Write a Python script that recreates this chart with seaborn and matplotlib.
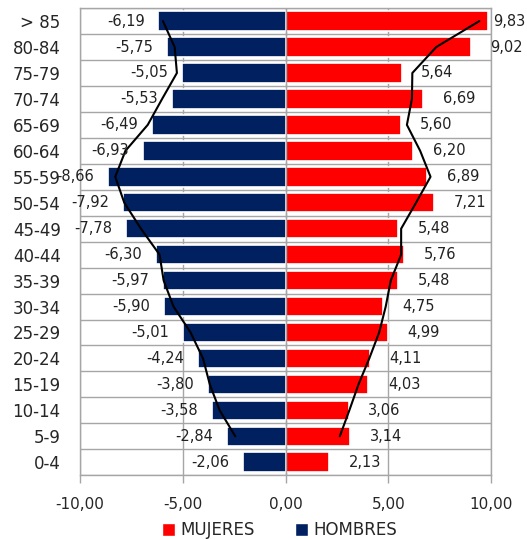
import numpy as np
import pandas as pd
import matplotlib
matplotlib.use("Agg")
import matplotlib.pyplot as plt
import seaborn as sns
from matplotlib.patches import Patch

# age groups, top to bottom
grupos = ["> 85", "80-84", "75-79", "70-74", "65-69", "60-64", "55-59", "50-54", "45-49",
          "40-44", "35-39", "30-34", "25-29", "20-24", "15-19", "10-14", "5-9", "0-4"]
hombres = [-6.19, -5.75, -5.05, -5.53, -6.49, -6.93, -8.66, -7.92, -7.78,
           -6.30, -5.97, -5.90, -5.01, -4.24, -3.80, -3.58, -2.84, -2.06]
mujeres = [9.83, 9.02, 5.64, 6.69, 5.60, 6.20, 6.89, 7.21, 5.48,
           5.76, 5.48, 4.75, 4.99, 4.11, 4.03, 3.06, 3.14, 2.13]
xticks = [-10, -5, 0, 5, 10]

ROJO = "#FF0000"
AZUL = "#002060"
GRIS = "#A6A6A6"


def fmt(v):
    return f"{v:.2f}".replace(".", ",")


df = pd.DataFrame({"grupo": grupos, "hombres": hombres, "mujeres": mujeres})
# 2-period moving average trendline (computed from bottom to top like Excel)
rev = df.iloc[::-1]
ma_h = rev["hombres"].rolling(2).mean().iloc[::-1]
ma_m = rev["mujeres"].rolling(2).mean().iloc[::-1]

sns.set_style("white")
plt.rcParams["font.family"] = ["DejaVu Sans"]

fig = plt.figure(figsize=(5.27, 5.40), dpi=100)
ax = fig.add_axes([0.152, 0.12, 0.78, 0.865])

sns.barplot(data=df, x="mujeres", y="grupo", orient="h", color=ROJO, saturation=1,
            width=0.75, edgecolor="white", linewidth=1.2, ax=ax, zorder=2)
sns.barplot(data=df, x="hombres", y="grupo", orient="h", color=AZUL, saturation=1,
            width=0.75, edgecolor="white", linewidth=1.2, ax=ax, zorder=2)

pos = np.arange(len(grupos))
ok = ma_h.notna().values
ax.plot(ma_h.values[ok], pos[ok], color="black", lw=1.5, zorder=4)
ax.plot(ma_m.values[ok], pos[ok], color="black", lw=1.5, zorder=4)

for i, (h, m) in enumerate(zip(hombres, mujeres)):
    ax.annotate(fmt(h), (h, i), xytext=(-10, 0), textcoords="offset points",
                ha="right", va="center", fontsize=10.5, color="#222222", zorder=5)
    off = 14 if m < 9.5 else 4
    ax.annotate(fmt(m), (m, i), xytext=(off, 0), textcoords="offset points",
                ha="left", va="center", fontsize=10.5, color="#222222", zorder=5,
                annotation_clip=False)

# grid
for b in np.arange(len(grupos) + 1) - 0.5:
    ax.axhline(b, color=GRIS, lw=1, zorder=1)
for t in xticks:
    ax.axvline(t, color=GRIS, lw=1, zorder=1)
ax.axvline(0, color=GRIS, lw=1, zorder=3)

ax.set_xlim(-10, 10)
ax.set_ylim(len(grupos) - 0.5, -0.5)
ax.set_xticks(xticks)
ax.set_xticklabels([fmt(t) for t in xticks], fontsize=11)
ax.set_yticks(pos)
ax.set_yticklabels(grupos, fontsize=12)
ax.set_xlabel("")
ax.set_ylabel("")
ax.tick_params(axis="x", direction="out", length=6, width=1, color=GRIS, pad=10, bottom=True)
ax.tick_params(axis="y", length=0, pad=14)
for s in ax.spines.values():
    s.set_color(GRIS)
    s.set_linewidth(1)

handles = [Patch(facecolor=ROJO, label="MUJERES"), Patch(facecolor=AZUL, label="HOMBRES")]
fig.legend(handles=handles, loc="center", bbox_to_anchor=(0.53, 0.018), ncol=2,
           frameon=False, fontsize=12, handlelength=0.8, handleheight=0.8,
           handletextpad=0.3, columnspacing=2.4)

fig.savefig("out.png", dpi=100)
